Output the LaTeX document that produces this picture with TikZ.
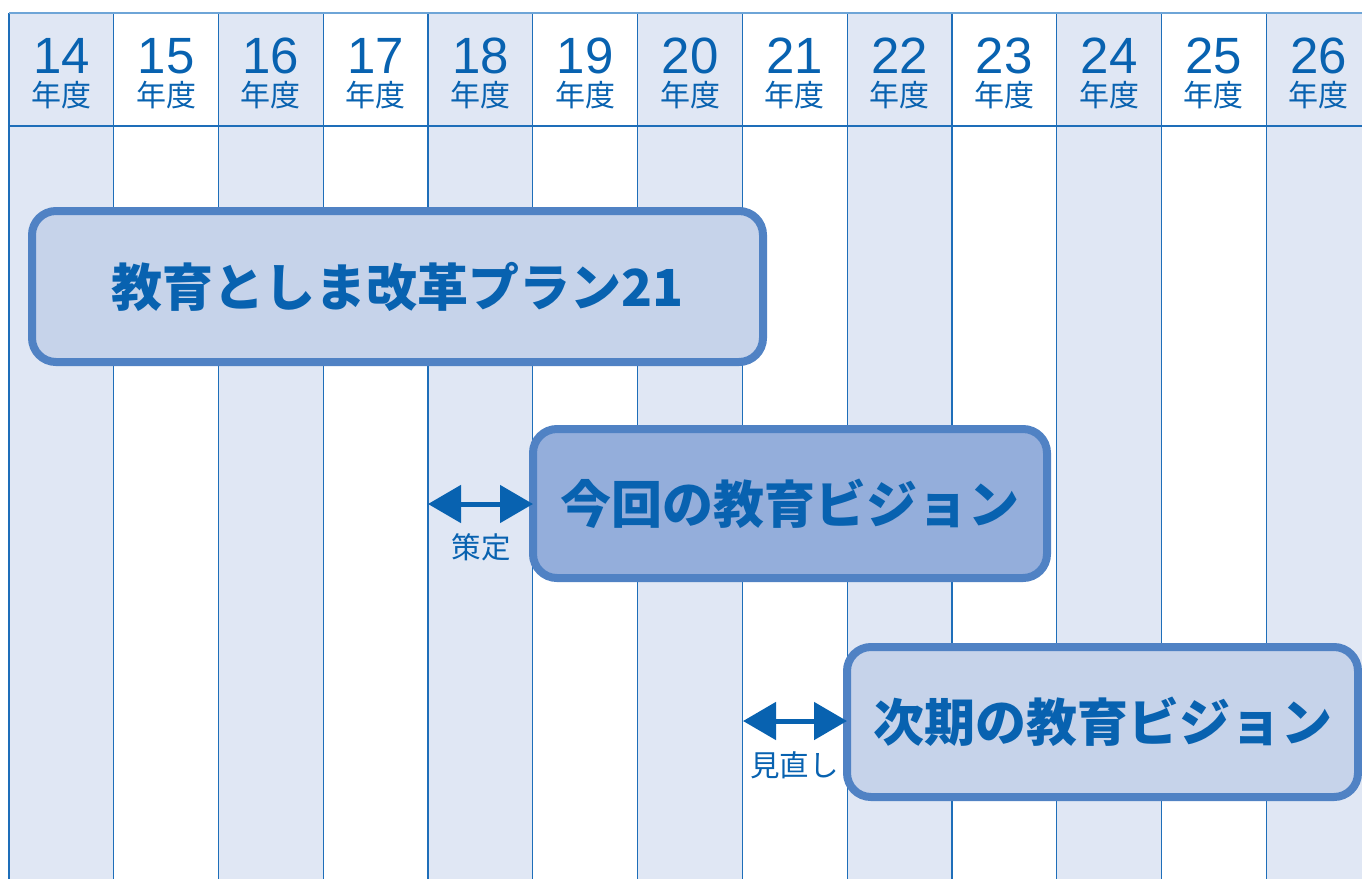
\documentclass[tikz,border=0pt]{standalone}
\usepackage{fontspec}
\setmainfont{Liberation Sans}
\newfontfamily\jp{Noto Sans CJK JP}
\newfontfamily\jpblack{Noto Sans CJK JP Black}
\usetikzlibrary{arrows.meta}
\definecolor{shadecol}{RGB}{224,231,244}
\definecolor{gridcol}{RGB}{30,110,185}
\definecolor{topcol}{RGB}{110,165,215}
\definecolor{txtblue}{RGB}{8,98,176}
\definecolor{boxline}{RGB}{80,130,196}
\definecolor{boxlight}{RGB}{198,211,234}
\definecolor{boxdark}{RGB}{148,174,219}
\tikzset{
  gridline/.style={draw=gridcol, line width=1.2pt},
  topline/.style={draw=topcol, line width=1.6pt},
  yearnum/.style={anchor=base, text=txtblue, inner sep=0pt, text depth=0pt, text height=36pt, font=\fontsize{51}{51}\selectfont},
  nendo/.style={anchor=base, text=txtblue, inner sep=0pt, text depth=2pt, text height=24pt, font=\jp\fontsize{30}{30}\selectfont},
  bigbox/.style={draw=boxline, line width=8pt, rounded corners=24pt, inner sep=0pt, outer sep=0pt,
    text=txtblue, font=\jpblack\fontsize{51}{51}\selectfont},
  dblarrow/.style={draw=txtblue, line width=5pt, {Triangle[length=33pt,width=37pt]}-{Triangle[length=33pt,width=37pt]}},
  smalllbl/.style={text=txtblue, inner sep=0pt, font=\jp\fontsize{29.5}{29.5}\selectfont}
}
\begin{document}
\begin{tikzpicture}[x=1pt,y=-1pt]
\useasboundingbox (0,0) rectangle (1362,879);
\begin{scope}
\clip (0,0) rectangle (1362,879);
\foreach \i in {0,2,...,12}
  \fill[shadecol] ({9+\i*104.77},13) rectangle ({9+(\i+1)*104.77},879);
\foreach \i in {0,...,12}
  \draw[gridline] ({9+\i*104.77},13) -- ({9+\i*104.77},879);
\draw[gridline] (9,126) -- (1362,126);
\draw[topline] (9,13) -- (1362,13);
\end{scope}
\foreach \i in {0,...,12}{
  \pgfmathtruncatemacro{\yr}{14+\i}
  \node[yearnum] (n\yr) at ({9+(\i+0.5)*104.77},73) {\yr};
  \node[nendo] (d\yr) at ({9+(\i+0.5)*104.77},106) {年度};
}
\node[bigbox, fill=boxlight, minimum width=731pt, minimum height=151pt] (plan) at (397.5,286.5) {教育としま改革プラン21};
\node[bigbox, fill=boxdark, minimum width=514pt, minimum height=149pt] (cur) at (790,503.5) {今回の教育ビジョン};
\node[bigbox, fill=boxlight, minimum width=511pt, minimum height=150pt] (nxt) at (1102.5,722) {次期の教育ビジョン};
\coordinate (s1) at (428,504);
\draw[dblarrow] (s1) -- (cur.west |- s1);
\coordinate (s2) at (743,721);
\draw[dblarrow] (s2) -- (nxt.west |- s2);
\node[smalllbl] (l1) at (481,547) {策定};
\node[smalllbl] (l2) at (794.5,765) {見直し};
\end{tikzpicture}
\end{document}
